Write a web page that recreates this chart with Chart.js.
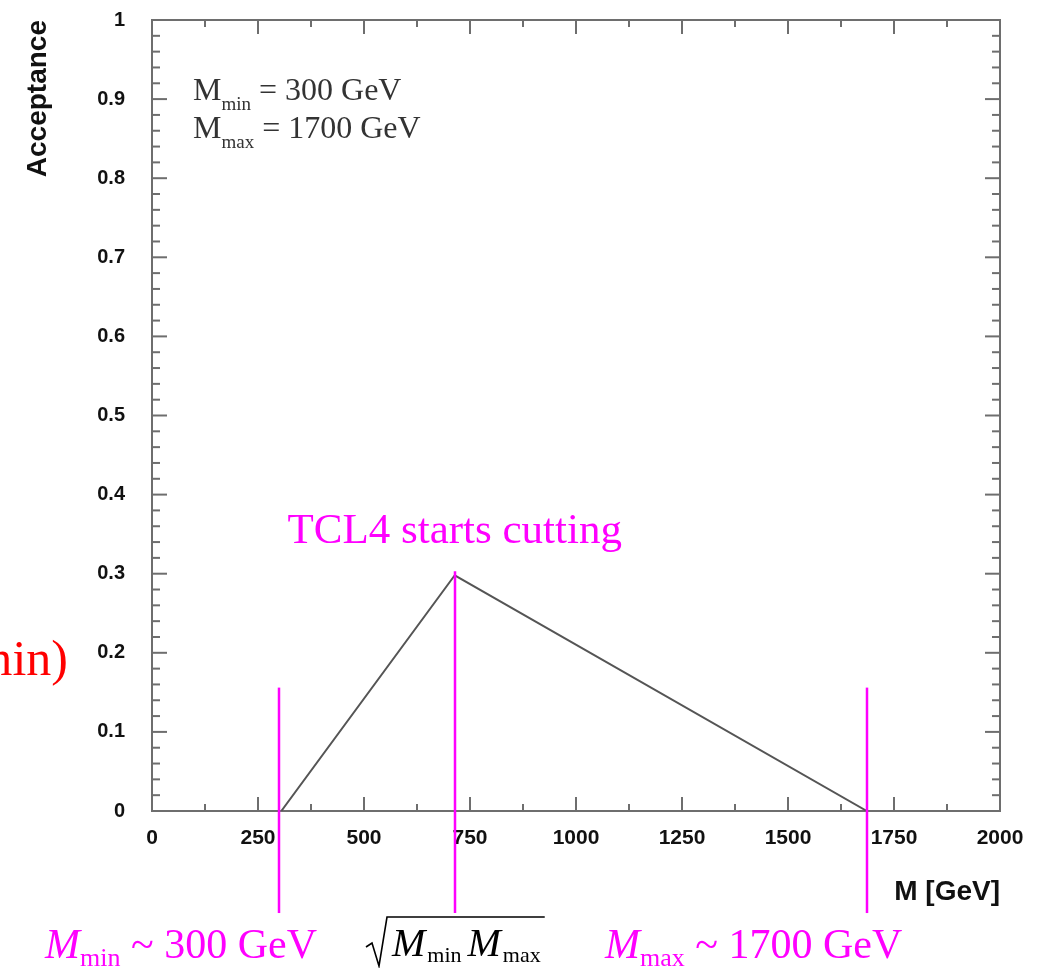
<!DOCTYPE html>
<html>
<head>
<meta charset="utf-8">
<title>Acceptance vs M</title>
<script src="https://cdn.jsdelivr.net/npm/chart.js@4.4.1/dist/chart.umd.min.js"></script>
<style>
  html, body { margin: 0; padding: 0; background: #fff; }
  #wrap { width: 1040px; height: 968px; }
</style>
</head>
<body>
<div id="wrap"><canvas id="chart" width="1040" height="968"></canvas></div>
<script>
'use strict';

// curve
const massPoints = [305, 714, 1686];
const acceptance = [0, 0.298, 0];

// axis tick labels
const massTicks = [0, 250, 500, 750, 1000, 1250, 1500, 1750, 2000];
const acceptanceTicks = [0, 0.1, 0.2, 0.3, 0.4, 0.5, 0.6, 0.7, 0.8, 0.9, 1];

// magenta markers: M_min, sqrt(M_min M_max), M_max
const markerMasses = [300, 714, 1686];
const markerTops = [0.156, 0.303, 0.156];
const markerBottom = -0.129;

// texts
const cutLabel = 'TCL4 starts cutting';
const boxLines = [
    ['M', 'min', ' = 300 GeV'],
    ['M', 'max', ' = 1700 GeV'],
];
const minLabel = ['M', 'min', ' ~ 300 GeV'];
const maxLabel = ['M', 'max', ' ~ 1700 GeV'];
const sideLabel = 'min)';

const SERIF = '"Liberation Serif", "Times New Roman", serif';
const SANS = '"Liberation Sans", Arial, Helvetica, sans-serif';
const MAGENTA = '#ff00ff';

(function(){

    // draws a row of [text, font, dy, gap] pieces, returns end x
    function drawParts(ctx, x, y, parts) {
        let cx = x;
        for (let p of parts) {
            ctx.font = p[1];
            ctx.fillText(p[0], cx, y + p[2]);
            cx += ctx.measureText(p[0]).width + (p[3] || 0);
        }
        return cx;
    }

    function line(ctx, x1, y1, x2, y2) {
        ctx.beginPath();
        ctx.moveTo(x1, y1);
        ctx.lineTo(x2, y2);
        ctx.stroke();
    }

    const framePlugin = {
        id: 'frame',
        beforeDatasetsDraw(chart) {
            let ctx = chart.ctx;
            let {left, right, top, bottom} = chart.chartArea;
            let xs = chart.scales.x, ys = chart.scales.y;
            ctx.save();
            ctx.strokeStyle = '#6e6e6e';
            ctx.lineWidth = 2;
            ctx.strokeRect(left, top, right - left, bottom - top);

            // ROOT style ticks, inside the frame
            for (let m = 0; m <= 2000; m += 125) {
                let px = xs.getPixelForValue(m);
                let len = m % 250 === 0 ? 14 : 7;
                line(ctx, px, bottom, px, bottom - len);
                line(ctx, px, top, px, top + len);
            }
            for (let i = 0; i <= 50; i++) {
                let py = ys.getPixelForValue(i * 0.02);
                let len = i % 5 === 0 ? 15 : 8;
                line(ctx, left, py, left + len, py);
                line(ctx, right, py, right - len, py);
            }
            ctx.restore();
        },
        afterDatasetsDraw(chart) {
            let ctx = chart.ctx;
            let xs = chart.scales.x, ys = chart.scales.y;
            ctx.save();
            ctx.strokeStyle = MAGENTA;
            ctx.lineWidth = 2.5;
            markerMasses.forEach(function(m, i) {
                let px = Math.round(xs.getPixelForValue(m));
                line(ctx, px, ys.getPixelForValue(markerTops[i]), px, ys.getPixelForValue(markerBottom));
            });
            ctx.restore();
        },
        afterDraw(chart) {
            let ctx = chart.ctx;
            let xs = chart.scales.x;
            ctx.save();
            ctx.textBaseline = 'alphabetic';
            ctx.textAlign = 'left';

            // M_min / M_max box in the corner
            ctx.fillStyle = '#333';
            boxLines.forEach(function(l, i) {
                let y = 100 + i * 38;
                drawParts(ctx, 193, y, [
                    [l[0], '32px ' + SERIF, 0],
                    [l[1], '19px ' + SERIF, 10],
                    [l[2], '32px ' + SERIF, 0],
                ]);
            });

            // TCL4 label over the peak
            ctx.fillStyle = MAGENTA;
            ctx.textAlign = 'center';
            ctx.font = '43px ' + SERIF;
            ctx.fillText(cutLabel, xs.getPixelForValue(markerMasses[1]), 543);

            // bottom labels
            ctx.textAlign = 'left';
            [[minLabel, 45], [maxLabel, 605]].forEach(function(a) {
                let l = a[0];
                drawParts(ctx, a[1], 958, [
                    [l[0], 'italic 42px ' + SERIF, 0],
                    [l[1], '26px ' + SERIF, 8],
                    [l[2], '42px ' + SERIF, 0],
                ]);
            });

            // sqrt(M_min M_max)
            ctx.fillStyle = '#000';
            let end = drawParts(ctx, 392, 956, [
                ['M', 'italic 40px ' + SERIF, 0, 2],
                ['min', '22px ' + SERIF, 6, 6],
                ['M', 'italic 40px ' + SERIF, 0, 2],
                ['max', '22px ' + SERIF, 6],
            ]);
            ctx.strokeStyle = '#000';
            ctx.lineWidth = 1.6;
            ctx.beginPath();
            ctx.moveTo(366, 947);
            ctx.lineTo(372, 943);
            ctx.lineTo(379, 966);
            ctx.lineTo(387, 917);
            ctx.lineTo(end + 4, 917);
            ctx.stroke();

            // cut-off red text on the left edge
            ctx.fillStyle = '#ff0000';
            ctx.textAlign = 'right';
            ctx.font = '50px ' + SERIF;
            ctx.fillText(sideLabel, 68, 675);

            ctx.restore();
        }
    };

    let ctx = document.getElementById('chart').getContext('2d');

    new Chart(ctx, {
        type: 'line',
        data: {
            datasets: [{
                label: 'Acceptance',
                data: massPoints.map(function(m, i) { return {x: m, y: acceptance[i]}; }),
                borderColor: '#555',
                borderWidth: 2,
                pointRadius: 0,
                tension: 0,
                fill: false,
            }]
        },
        options: {
            responsive: false,
            animation: false,
            layout: {
                padding: {top: 20, right: 40, left: 0, bottom: 0}
            },
            plugins: {
                legend: {display: false},
                tooltip: {enabled: false},
            },
            scales: {
                x: {
                    type: 'linear',
                    min: 0,
                    max: 2000,
                    afterBuildTicks: function(s) {
                        s.ticks = massTicks.map(function(v) { return {value: v}; });
                    },
                    afterFit: function(s) {
                        s.height = 157;
                        s.paddingLeft = 0;
                        s.paddingRight = 0;
                    },
                    grid: {display: false, drawTicks: false},
                    border: {display: false},
                    ticks: {
                        padding: 15,
                        autoSkip: false,
                        maxRotation: 0,
                        color: '#111',
                        font: {family: SANS, size: 21, weight: 'bold'},
                        callback: function(v) { return String(v); },
                    },
                    title: {
                        display: true,
                        text: 'M [GeV]',
                        align: 'end',
                        color: '#111',
                        font: {family: SANS, size: 28, weight: 'bold'},
                        padding: {top: 0, bottom: 59},
                    },
                },
                y: {
                    type: 'linear',
                    min: 0,
                    max: 1,
                    afterBuildTicks: function(s) {
                        s.ticks = acceptanceTicks.map(function(v) { return {value: v}; });
                    },
                    afterFit: function(s) {
                        s.width = 152;
                        s.paddingTop = 0;
                        s.paddingBottom = 0;
                    },
                    grid: {display: false, drawTicks: false},
                    border: {display: false},
                    ticks: {
                        padding: 27,
                        color: '#111',
                        font: {family: SANS, size: 20, weight: 'bold'},
                        callback: function(v) { return String(v); },
                    },
                    title: {
                        display: true,
                        text: 'Acceptance',
                        align: 'end',
                        color: '#111',
                        font: {family: SANS, size: 28, weight: 'bold'},
                        padding: {top: 21, bottom: 0},
                    },
                },
            },
        },
        plugins: [framePlugin],
    });
})();
</script>
</body>
</html>
